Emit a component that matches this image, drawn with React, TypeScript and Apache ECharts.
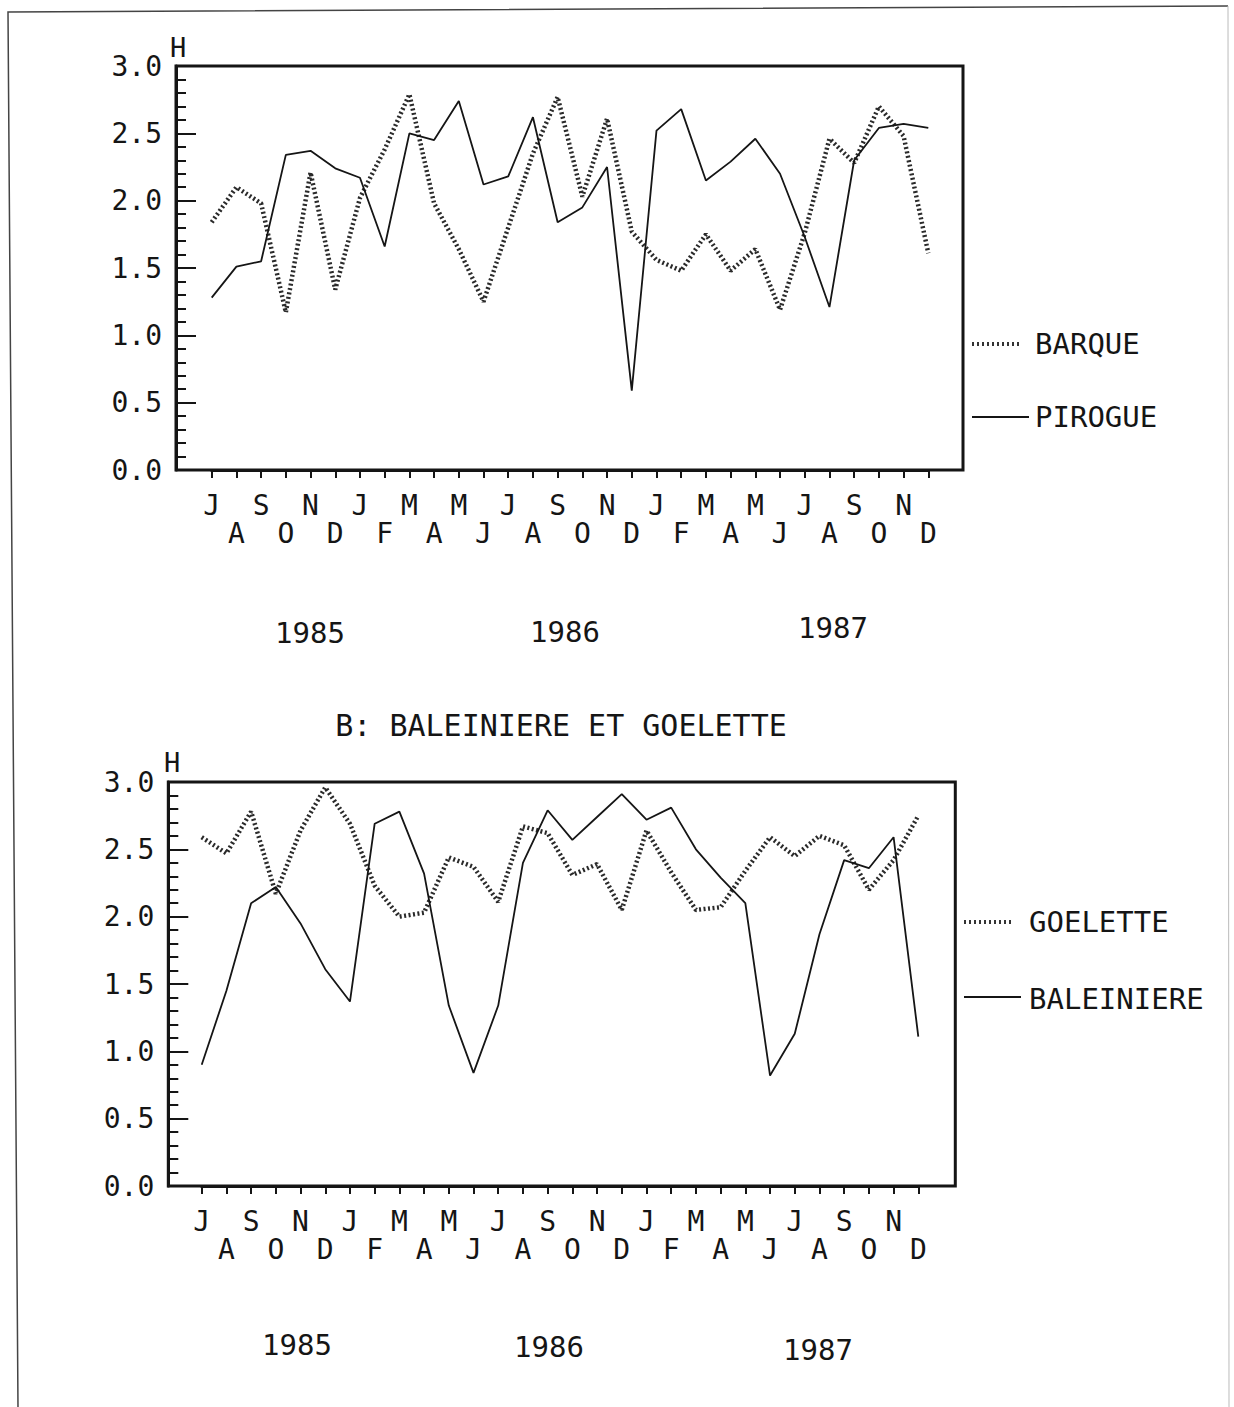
import React, { useEffect, useRef } from "react";
import * as echarts from "echarts";

const months = ["J","A","S","O","N","D","J","F","M","A","M","J","J","A","S","O","N","D","J","F","M","A","M","J","J","A","S","O","N","D"];
const yearLabels = ["1985", "1986", "1987"];
const yTicks = [0, 0.5, 1, 1.5, 2, 2.5, 3];

const barque = [1.84,2.10,1.98,1.17,2.21,1.34,2.02,2.38,2.79,1.98,1.64,1.25,1.80,2.35,2.77,2.03,2.61,1.77,1.56,1.48,1.75,1.48,1.64,1.19,1.76,2.46,2.28,2.70,2.48,1.61];
const pirogue = [1.28,1.51,1.55,2.34,2.37,2.24,2.17,1.66,2.50,2.45,2.74,2.12,2.18,2.62,1.84,1.95,2.25,0.59,2.52,2.68,2.15,2.29,2.46,2.20,1.73,1.21,2.30,2.54,2.57,2.54];
const goelette = [2.59,2.47,2.78,2.17,2.64,2.96,2.69,2.23,2.00,2.03,2.44,2.37,2.11,2.67,2.62,2.31,2.39,2.05,2.64,2.33,2.05,2.07,2.34,2.59,2.45,2.60,2.53,2.20,2.42,2.75];
const baleiniere = [0.90,1.45,2.10,2.22,1.95,1.61,1.37,2.69,2.78,2.32,1.34,0.84,1.34,2.40,2.79,2.57,2.74,2.91,2.72,2.81,2.50,2.29,2.10,0.82,1.13,1.87,2.42,2.36,2.59,1.11];

const FONT = "'DejaVu Sans Mono', 'Liberation Mono', monospace";
const INK = "#151515";

function xAxisCfg(gridIndex: number) {
  return {
    gridIndex,
    type: "category",
    data: months,
    boundaryGap: false,
    axisLine: { show: true, lineStyle: { color: INK, width: 3 } },
    axisTick: { show: true, interval: 0, length: 8, lineStyle: { color: INK, width: 2 } },
    splitLine: { show: false },
    axisLabel: {
      interval: 0,
      margin: 21,
      fontFamily: FONT,
      fontSize: 28,
      lineHeight: 28,
      color: INK,
      formatter: (v: string, i: number) => (i % 2 === 0 ? v : "\n" + v),
    },
  };
}

function yAxisCfg(gridIndex: number, offset: number) {
  return {
    gridIndex,
    type: "value",
    min: yTicks[0],
    max: yTicks[yTicks.length - 1],
    interval: 0.5,
    offset,
    axisLine: { show: true, lineStyle: { color: INK, width: 3 } },
    axisTick: { show: true, inside: true, length: 20, lineStyle: { color: INK, width: 2 } },
    minorTick: { show: true, splitNumber: 5, length: 10, lineStyle: { color: INK, width: 2 } },
    splitLine: { show: false },
    minorSplitLine: { show: false },
    axisLabel: {
      margin: 14,
      fontFamily: FONT,
      fontSize: 28,
      color: INK,
      formatter: (v: number) => v.toFixed(1),
    },
  };
}

function txt(text: string, x: number, y: number, size = 29, align = "center") {
  return {
    type: "text",
    x,
    y,
    z: 10,
    style: { text, fontFamily: FONT, fontSize: size, fill: INK, align, verticalAlign: "middle" },
  };
}

function seg(x1: number, y1: number, x2: number, y2: number, dotted: boolean, w = 2) {
  return {
    type: "line",
    z: 10,
    shape: { x1, y1, x2, y2 },
    style: dotted
      ? { stroke: "#333", lineWidth: 4, lineDash: [2, 3] }
      : { stroke: INK, lineWidth: w },
  };
}

const dottedLine = { color: "#2a2a2a", width: 4.5, type: [2, 2.5] };
const solidLine = { color: INK, width: 1.8, type: "solid" };

export default function App() {
  const ref = useRef<HTMLDivElement>(null);
  useEffect(() => {
    if (!ref.current) return;
    const chart = echarts.init(ref.current, null, { renderer: "svg" });
    const option = {
      animation: false,
      backgroundColor: "#ffffff",
      grid: [
        { left: 211.7, right: 1234 - 928.3, top: 66, bottom: 1407 - 470, containLabel: false },
        { left: 201.7, right: 1234 - 918.3, top: 782, bottom: 1407 - 1186, containLabel: false },
      ],
      xAxis: [xAxisCfg(0), xAxisCfg(1)],
      yAxis: [yAxisCfg(0, 35.7), yAxisCfg(1, 33.4)],
      series: [
        { name: "BARQUE", type: "line", xAxisIndex: 0, yAxisIndex: 0, data: barque, showSymbol: false, symbol: "none", lineStyle: dottedLine },
        { name: "PIROGUE", type: "line", xAxisIndex: 0, yAxisIndex: 0, data: pirogue, showSymbol: false, symbol: "none", lineStyle: solidLine },
        { name: "GOELETTE", type: "line", xAxisIndex: 1, yAxisIndex: 1, data: goelette, showSymbol: false, symbol: "none", lineStyle: dottedLine },
        { name: "BALEINIERE", type: "line", xAxisIndex: 1, yAxisIndex: 1, data: baleiniere, showSymbol: false, symbol: "none", lineStyle: solidLine },
      ],
      graphic: [
        // page border
        { type: "polyline", z: 1, shape: { points: [[18, 1407], [8, 12], [1228, 6]] }, style: { stroke: "#444", lineWidth: 1.5, fill: "none" } },
        { type: "line", z: 1, shape: { x1: 1228, y1: 6, x2: 1229, y2: 1407 }, style: { stroke: "#bbb", lineWidth: 1 } },
        // frames
        { type: "rect", z: 9, shape: { x: 176, y: 66, width: 787, height: 404 }, style: { fill: "none", stroke: INK, lineWidth: 3 } },
        { type: "rect", z: 9, shape: { x: 168.3, y: 782, width: 787, height: 404 }, style: { fill: "none", stroke: INK, lineWidth: 3 } },
        // unit labels
        txt("H", 178, 47, 27),
        txt("H", 172, 762, 27),
        // years
        txt(yearLabels[0], 310, 633),
        txt(yearLabels[1], 565, 632),
        txt(yearLabels[2], 833, 628),
        txt(yearLabels[0], 297, 1345),
        txt(yearLabels[1], 549, 1347),
        txt(yearLabels[2], 818, 1350),
        // title of panel B
        txt("B: BALEINIERE ET GOELETTE", 561, 725, 30),
        // legends
        seg(972, 344, 1021, 344, true),
        txt("BARQUE", 1035, 344, 29, "left"),
        seg(972, 417, 1029, 417, false),
        txt("PIROGUE", 1035, 417, 29, "left"),
        seg(964, 922, 1013, 922, true),
        txt("GOELETTE", 1029, 922, 29, "left"),
        seg(964, 997, 1021, 997, false),
        txt("BALEINIERE", 1029, 999, 29, "left"),
      ],
    };
    chart.setOption(option as any);
    return () => chart.dispose();
  }, []);
  return (
    <div
      ref={ref}
      style={{ position: "absolute", left: 0, top: 0, width: 1234, height: 1407, background: "#fff" }}
    />
  );
}
